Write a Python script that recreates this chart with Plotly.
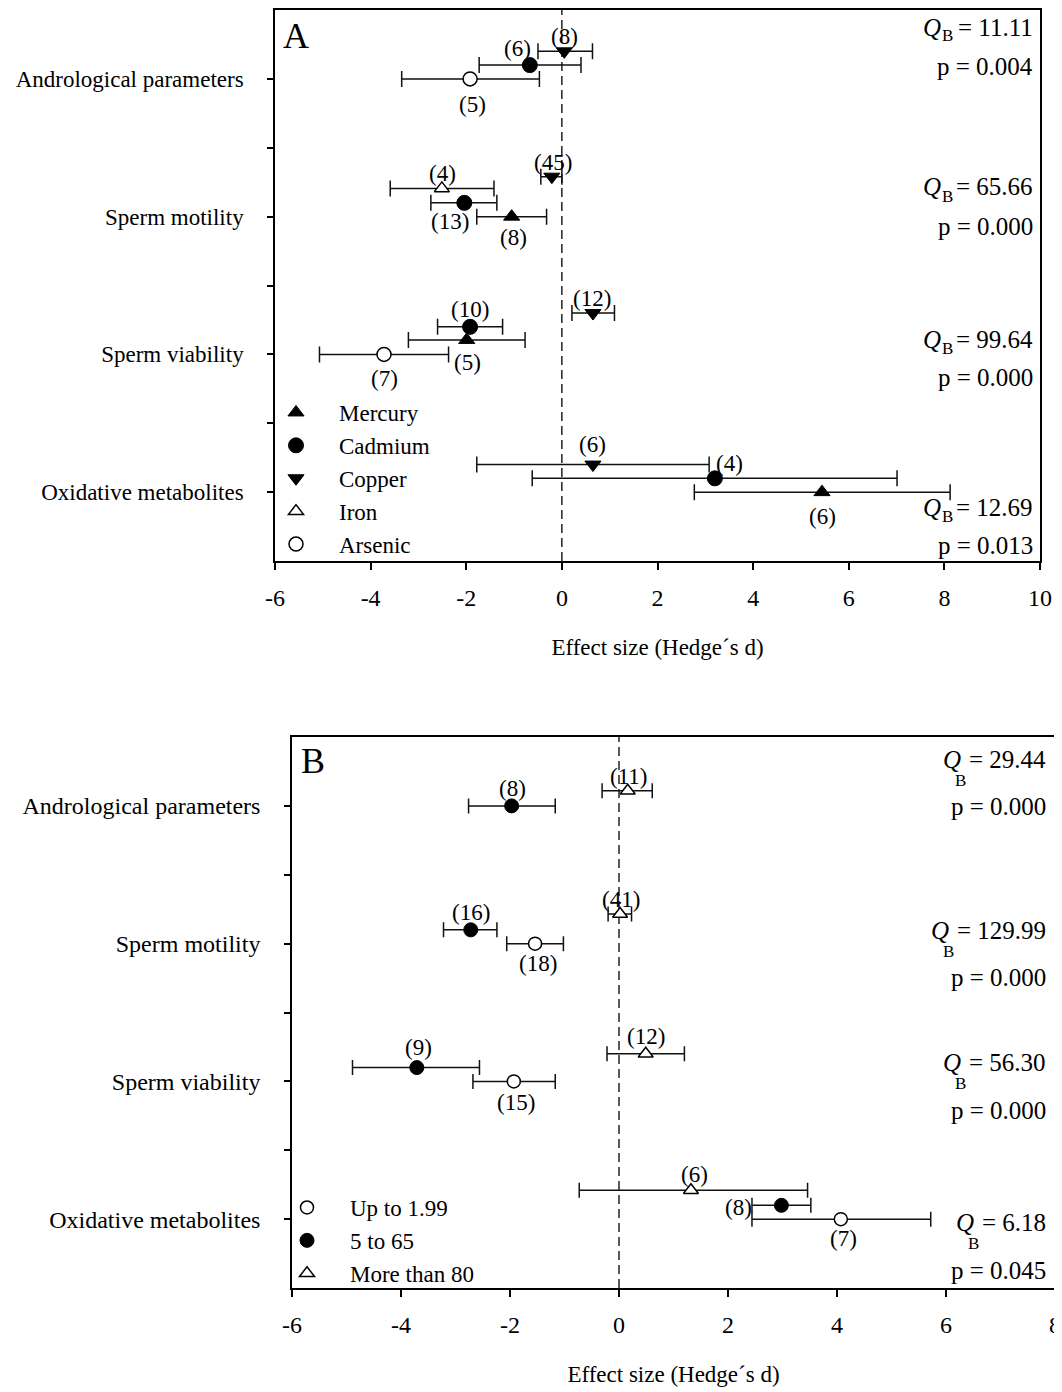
import plotly.graph_objects as go

FONT = "Liberation Serif, Times New Roman, serif"
OFF = 8                      # default page margin of the html body
W, H = 1062 - OFF, 1392 - OFF

# ---------------- data ----------------
CATEGORIES = ["Andrological parameters", "Sperm motility", "Sperm viability", "Oxidative metabolites"]
X_TICKS_A = [-6, -4, -2, 0, 2, 4, 6, 8, 10]
X_TICKS_B = [-6, -4, -2, 0, 2, 4, 6, 8]
X_TITLE = "Effect size (Hedge´s d)"

# Panel A: metals
mercury_cat = ["Sperm motility", "Sperm viability", "Oxidative metabolites"]
mercury_d = [-1.05, -1.99, 5.44]
mercury_lo = [-1.78, -3.21, 2.77]
mercury_hi = [-0.32, -0.77, 8.12]
mercury_n = [8, 5, 6]

cadmium_cat = ["Andrological parameters", "Sperm motility", "Sperm viability", "Oxidative metabolites"]
cadmium_d = [-0.67, -2.04, -1.92, 3.20]
cadmium_lo = [-1.73, -2.74, -2.60, -0.62]
cadmium_hi = [0.40, -1.36, -1.24, 7.01]
cadmium_n = [6, 13, 10, 4]

copper_cat = ["Andrological parameters", "Sperm motility", "Sperm viability", "Oxidative metabolites"]
copper_d = [0.05, -0.21, 0.65, 0.65]
copper_lo = [-0.50, -0.44, 0.21, -1.78]
copper_hi = [0.64, 0.00, 1.10, 3.08]
copper_n = [8, 45, 12, 6]

iron_cat = ["Sperm motility"]
iron_d = [-2.51]
iron_lo = [-3.59]
iron_hi = [-1.42]
iron_n = [4]

arsenic_cat = ["Andrological parameters", "Sperm viability"]
arsenic_d = [-1.92, -3.72]
arsenic_lo = [-3.35, -5.07]
arsenic_hi = [-0.47, -2.37]
arsenic_n = [5, 7]

A_QB = ["11.11", "65.66", "99.64", "12.69"]
A_P = ["0.004", "0.000", "0.000", "0.013"]

# Panel B: concentration groups
low_cat = ["Sperm motility", "Sperm viability", "Oxidative metabolites"]
low_d = [-1.54, -1.93, 4.07]
low_lo = [-2.06, -2.68, 2.44]
low_hi = [-1.02, -1.17, 5.72]
low_n = [18, 15, 7]

mid_cat = ["Andrological parameters", "Sperm motility", "Sperm viability", "Oxidative metabolites"]
mid_d = [-1.97, -2.72, -3.71, 2.98]
mid_lo = [-2.76, -3.22, -4.89, 2.44]
mid_hi = [-1.17, -2.24, -2.56, 3.52]
mid_n = [8, 16, 9, 8]

high_cat = ["Andrological parameters", "Sperm motility", "Sperm viability", "Oxidative metabolites"]
high_d = [0.16, 0.02, 0.49, 1.32]
high_lo = [-0.31, -0.20, -0.22, -0.73]
high_hi = [0.61, 0.23, 1.20, 3.46]
high_n = [11, 41, 12, 6]

B_QB = ["29.44", "129.99", "56.30", "6.18"]
B_P = ["0.000", "0.000", "0.000", "0.045"]

# ---------------- layout helpers (positions / styles) ----------------
CAT_ROW = {c: 1 + 2 * i for i, c in enumerate(CATEGORIES)}


def px_x(p):
    return (p - OFF) / W


def px_y(p):
    return 1 - (p - OFF) / H


fig = go.Figure()

NB = "\u00a0" * 4


def add_series(name, cats, d, lo, hi, n, offs, lbl, marker, xa, ya, legend, capw):
    y = [CAT_ROW[c] + o for c, o in zip(cats, offs)]
    fig.add_trace(go.Scatter(
        x=d, y=y, mode="markers", name=NB + name,
        marker=marker,
        error_x=dict(type="data", symmetric=False,
                     array=[h - v for h, v in zip(hi, d)],
                     arrayminus=[v - l for v, l in zip(d, lo)],
                     color="#111111", thickness=1.5, width=capw),
        xaxis=xa, yaxis=ya, legend=legend, cliponaxis=False, hoverinfo="skip",
    ))
    for v, yy, k, (dx, dy) in zip(d, y, n, lbl):
        fig.add_annotation(x=v, y=yy, xref=xa, yref=ya, text=f"({k})", showarrow=False,
                           xshift=dx, yshift=-dy,
                           font=dict(family=FONT, size=23, color="black"))


BLACK = "black"
mk_tri_f = dict(symbol="triangle-up", size=14, color=BLACK, line=dict(color=BLACK, width=1))
mk_cir_f = dict(symbol="circle", size=15, color=BLACK, line=dict(color=BLACK, width=1))
mk_tri_d = dict(symbol="triangle-down", size=14, color=BLACK, line=dict(color=BLACK, width=1))
mk_tri_o = dict(symbol="triangle-up", size=13, color="white", line=dict(color=BLACK, width=1.5))
mk_cir_o = dict(symbol="circle", size=14, color="white", line=dict(color=BLACK, width=1.5))

# Panel A
add_series("Mercury", mercury_cat, mercury_d, mercury_lo, mercury_hi, mercury_n,
           [0.0, -0.21, 0.0], [(2, 21), (1, 23), (1, 24)], mk_tri_f, "x", "y", "legend", 8)
add_series("Cadmium", cadmium_cat, cadmium_d, cadmium_lo, cadmium_hi, cadmium_n,
           [-0.20, -0.20, -0.40, -0.20], [(-12, -17), (-14, 19), (0, -17), (15, -15)], mk_cir_f, "x", "y", "legend", 8)
add_series("Copper", copper_cat, copper_d, copper_lo, copper_hi, copper_n,
           [-0.40, -0.58, -0.60, -0.40], [(0, -15), (1, -14), (-1, -15), (0, -20)], mk_tri_d, "x", "y", "legend", 8)
add_series("Iron", iron_cat, iron_d, iron_lo, iron_hi, iron_n,
           [-0.41], [(1, -15)], mk_tri_o, "x", "y", "legend", 8)
add_series("Arsenic", arsenic_cat, arsenic_d, arsenic_lo, arsenic_hi, arsenic_n,
           [0.0, 0.0], [(2, 26), (0, 24)], mk_cir_o, "x", "y", "legend", 8)

# Panel B
mk_cir_o_b = dict(symbol="circle", size=13, color="white", line=dict(color=BLACK, width=1.5))
mk_cir_f_b = dict(symbol="circle", size=14, color=BLACK, line=dict(color=BLACK, width=1))
mk_tri_o_b = dict(symbol="triangle-up", size=13, color="white", line=dict(color=BLACK, width=1.5))
add_series("Up to 1.99", low_cat, low_d, low_lo, low_hi, low_n,
           [0.0, 0.0, 0.0], [(3, 20), (2, 21), (3, 19)], mk_cir_o_b, "x2", "y2", "legend2", 7.5)
add_series("5 to 65", mid_cat, mid_d, mid_lo, mid_hi, mid_n,
           [0.0, -0.20, -0.20, -0.20], [(1, -17), (0, -17), (2, -20), (-43, 2)], mk_cir_f_b, "x2", "y2", "legend2", 7.5)
add_series("More than 80", high_cat, high_d, high_lo, high_hi, high_n,
           [-0.22, -0.43, -0.40, -0.42], [(1, -14), (1, -15), (0, -17), (4, -16)], mk_tri_o_b, "x2", "y2", "legend2", 7.5)

# axes
tickfont = dict(family=FONT, size=24, color="black")
common = dict(showline=True, mirror=True, linecolor="black", linewidth=1.5,
              ticks="outside", ticklen=7, tickwidth=1.5, tickcolor="black",
              showgrid=False, zeroline=False, tickfont=tickfont, automargin=False,
              ticklabeloverflow="allow")
ycommon = dict(common, range=[8, 0], tickvals=[CAT_ROW[c] for c in CATEGORIES], ticktext=CATEGORIES,
               ticklen=6, ticklabelstandoff=19,
               minor=dict(tickvals=[2, 4, 6], ticks="outside", ticklen=6, tickwidth=1.5,
                          tickcolor="black", showgrid=False))
xtitle = dict(text=X_TITLE, font=dict(family=FONT, size=23, color="black"), standoff=29)

fig.update_layout(
    template="none",
    xaxis=dict(common, domain=[px_x(275), px_x(1040)], range=[-6, 10], tickvals=X_TICKS_A,
               ticktext=[str(v) for v in X_TICKS_A], anchor="y", ticklabelstandoff=7, title=xtitle),
    yaxis=dict(ycommon, domain=[px_y(561), px_y(10)], anchor="x",
               tickfont=dict(family=FONT, size=23, color="black")),
    xaxis2=dict(common, domain=[px_x(292), px_x(1055)], range=[-6, 8], tickvals=X_TICKS_B,
                ticktext=[str(v) for v in X_TICKS_B], anchor="y2", ticklabelstandoff=7, title=xtitle),
    yaxis2=dict(ycommon, domain=[px_y(1288), px_y(737)], anchor="x2",
                tickfont=dict(family=FONT, size=24, color="black")),
)

# zero reference lines
for xa, ya in [("x", "y"), ("x2", "y2")]:
    fig.add_shape(type="line", x0=0, x1=0, y0=0, y1=1, xref=xa, yref=ya + " domain",
                  line=dict(color="black", width=1.3, dash="9px,5px"), layer="below")

# panel letters
fig.add_annotation(text="A", x=px_x(281), y=px_y(36), xref="paper", yref="paper", xanchor="left",
                   yanchor="middle", showarrow=False, font=dict(family=FONT, size=36, color="black"))
fig.add_annotation(text="B", x=px_x(299), y=px_y(761), xref="paper", yref="paper", xanchor="left",
                   yanchor="middle", showarrow=False, font=dict(family=FONT, size=36, color="black"))

# Q_B and p statistics
CHAR_EM = {".": 0.25, "=": 0.564, " ": 0.25}
STAT_SIZE = 25
SUB_SIZE = 17


def text_width(s, size):
    return sum(CHAR_EM.get(ch, 0.5) for ch in s) * size


def add_stat(q, p, right, qy, py, sub_drop, q_gap):
    eq = f"= {q}"
    fig.add_annotation(text=eq, x=px_x(right), y=px_y(qy), xref="paper", yref="paper",
                       xanchor="right", yanchor="middle", showarrow=False,
                       font=dict(family=FONT, size=STAT_SIZE, color="black"))
    b_right = right - text_width(eq, STAT_SIZE) - 3
    fig.add_annotation(text="B", x=px_x(b_right), y=px_y(qy + sub_drop), xref="paper", yref="paper",
                       xanchor="right", yanchor="middle", showarrow=False,
                       font=dict(family=FONT, size=SUB_SIZE, color="black"))
    fig.add_annotation(text="Q", x=px_x(b_right - q_gap), y=px_y(qy), xref="paper", yref="paper",
                       xanchor="right", yanchor="middle", showarrow=False,
                       font=dict(family=FONT, size=STAT_SIZE, color="black", style="italic"))
    fig.add_annotation(text=f"p = {p}", x=px_x(right), y=px_y(py), xref="paper", yref="paper",
                       xanchor="right", yanchor="middle", showarrow=False,
                       font=dict(family=FONT, size=STAT_SIZE, color="black"))


A_Q_Y = [27, 187, 339, 507]
A_P_Y = [67, 226, 378, 545]
B_Q_Y = [760, 930, 1062, 1222]
B_P_Y = [806, 977, 1110, 1270]
for q, p, qy, py in zip(A_QB, A_P, A_Q_Y, A_P_Y):
    add_stat(q, p, 1035, qy, py, 9, 12)
for q, p, qy, py in zip(B_QB, B_P, B_Q_Y, B_P_Y):
    add_stat(q, p, 1048, qy, py, 21, 5)

legend_style = dict(xanchor="left", yanchor="top", font=dict(family=FONT, size=23, color="black"),
                    bgcolor="rgba(0,0,0,0)", borderwidth=0, tracegroupgap=0)
fig.update_layout(
    width=W, height=H, margin=dict(l=0, r=0, t=0, b=0, autoexpand=False),
    paper_bgcolor="white", plot_bgcolor="white",
    font=dict(family=FONT, color="black"),
    showlegend=True,
    legend=dict(legend_style, x=px_x(276), y=px_y(391)),
    legend2=dict(legend_style, x=px_x(287), y=px_y(1186)),
)

fig.write_html("out.html")
